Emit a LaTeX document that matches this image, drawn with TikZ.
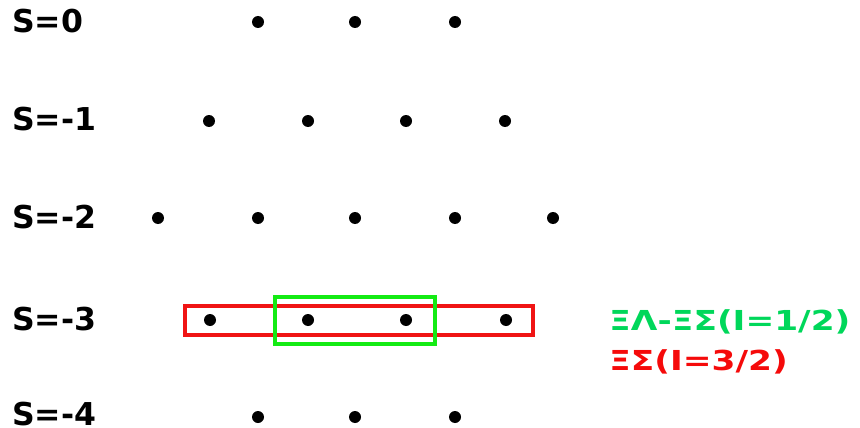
\documentclass[tikz,border=0pt]{standalone}
\usepackage{fontspec}
\setmainfont{DejaVu Sans}
\definecolor{boxred}{RGB}{240,20,20}
\definecolor{boxgreen}{RGB}{20,235,20}
\definecolor{txtgreen}{RGB}{0,215,90}
\definecolor{txtred}{RGB}{245,10,10}
\begin{document}
\begin{tikzpicture}[x=1pt,y=-1pt,
  lbl/.style={anchor=west,inner sep=0pt,font=\fontsize{31.5}{34}\selectfont\bfseries},
  rlbl/.style={anchor=west,inner sep=0pt,font=\fontsize{27.5}{30}\selectfont\bfseries},
  dot/.style={circle,fill=black,inner sep=0pt,minimum size=12pt},
  redbox/.style={draw=boxred,line width=3.5pt},
  greenbox/.style={draw=boxgreen,line width=3.5pt}]
\useasboundingbox (0,0) rectangle (860,428);
% labels
\node[lbl] (s0) at (12,21.5) {S=0};
\node[lbl] (s1) at (12,119.5) {S=-1};
\node[lbl] (s2) at (12,217.5) {S=-2};
\node[lbl] (s3) at (12,319.5) {S=-3};
\node[lbl] (s4) at (12,414.5) {S=-4};
% dots
\foreach \x [count=\i] in {258,355,455} \node[dot] (a\i) at (\x,22) {};
\foreach \x [count=\i] in {209,308,406,505} \node[dot] (b\i) at (\x,121) {};
\foreach \x [count=\i] in {158,258,355,455,553} \node[dot] (c\i) at (\x,218) {};
\foreach \x [count=\i] in {210,308,406,506} \node[dot] (d\i) at (\x,320) {};
\foreach \x [count=\i] in {258,355,455} \node[dot] (e\i) at (\x,417) {};
% boxes
\draw[redbox] (185,306) rectangle (533,335);
\draw[greenbox] (275,297) rectangle (435,344);
% right labels
\node[rlbl,text=txtgreen] (g) at (609,322) {\scalebox{1.25}[1]{ΞΛ-ΞΣ(I=1/2)}};
\node[rlbl,text=txtred] (r) at (609,362) {\scalebox{1.25}[1]{ΞΣ(I=3/2)}};
\end{tikzpicture}
\end{document}
